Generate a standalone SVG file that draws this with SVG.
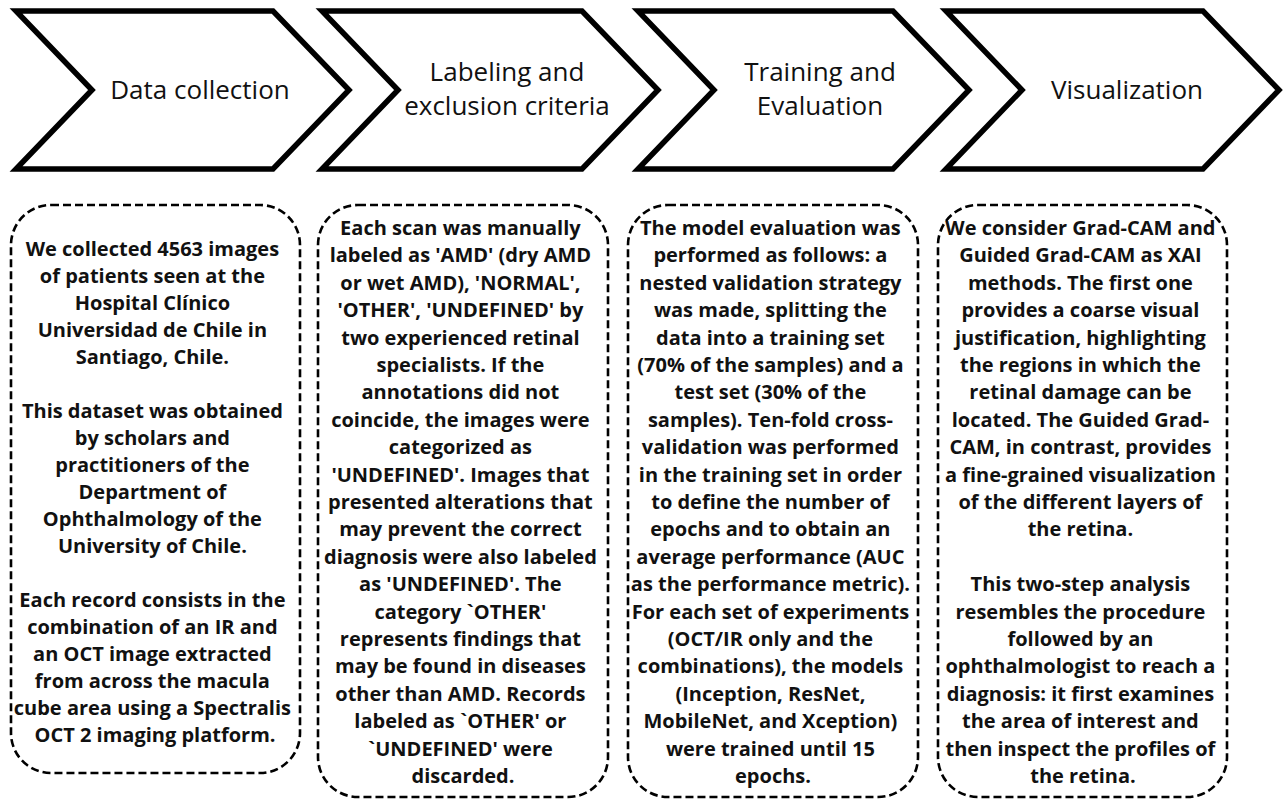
<svg xmlns="http://www.w3.org/2000/svg" width="1288" height="801" viewBox="0 0 1288 801">
<style>
.chev{fill:#fff;stroke:#000;stroke-width:5.5;stroke-linejoin:miter}
.head{font-family:"Open Sans","Liberation Sans",sans-serif;font-size:26px;font-weight:400;fill:#111;text-anchor:middle}
.box{fill:#fff;stroke:#000;stroke-width:2.6;stroke-dasharray:8 4}
.body{font-family:"Open Sans","Liberation Sans",sans-serif;font-size:20px;font-weight:700;fill:#111;text-anchor:middle}
</style>
<rect width="1288" height="801" fill="#fff"/>
<g id="step1">
<path class="chev" d="M16,11 H273 L349,90 L273,169 H16 L92,90 Z"/>
<text class="head" x="200" y="99">Data collection</text>
</g>
<g id="step2">
<path class="chev" d="M322,11 H582 L658,90 L582,169 H322 L398,90 Z"/>
<text class="head" x="507" y="81">Labeling and</text>
<text class="head" x="507" y="115">exclusion criteria</text>
</g>
<g id="step3">
<path class="chev" d="M638,11 H893 L969,90 L893,169 H638 L714,90 Z"/>
<text class="head" x="820" y="81">Training and</text>
<text class="head" x="820" y="115">Evaluation</text>
</g>
<g id="step4">
<path class="chev" d="M946,11 H1203 L1279,90 L1203,169 H946 L1022,90 Z"/>
<text class="head" x="1127" y="99">Visualization</text>
</g>
<g id="box1">
<rect class="box" x="11" y="205" width="289" height="568" rx="40" ry="40"/>
<text class="body">
<tspan x="155" y="256">We collected 4563 images</tspan>
<tspan x="155" y="283">of patients seen at the</tspan>
<tspan x="155" y="310">Hospital Clínico</tspan>
<tspan x="155" y="337">Universidad de Chile in</tspan>
<tspan x="155" y="364">Santiago, Chile.</tspan>
<tspan x="155" y="418">This dataset was obtained</tspan>
<tspan x="155" y="445">by scholars and</tspan>
<tspan x="155" y="472">practitioners of the</tspan>
<tspan x="155" y="499">Department of</tspan>
<tspan x="155" y="526">Ophthalmology of the</tspan>
<tspan x="155" y="553">University of Chile.</tspan>
<tspan x="155" y="607">Each record consists in the</tspan>
<tspan x="155" y="634">combination of an IR and</tspan>
<tspan x="155" y="661">an OCT image extracted</tspan>
<tspan x="155" y="688">from across the macula</tspan>
<tspan x="155" y="715">cube area using a Spectralis</tspan>
<tspan x="155" y="742">OCT 2 imaging platform.</tspan>
</text>
</g>
<g id="box2">
<rect class="box" x="318" y="205" width="290" height="592" rx="40" ry="40"/>
<text class="body">
<tspan x="463" y="235">Each scan was manually</tspan>
<tspan x="463" y="262.4">labeled as 'AMD' (dry AMD</tspan>
<tspan x="463" y="289.8">or wet AMD), 'NORMAL',</tspan>
<tspan x="463" y="317.2">'OTHER', 'UNDEFINED' by</tspan>
<tspan x="463" y="344.6">two experienced retinal</tspan>
<tspan x="463" y="372">specialists. If the</tspan>
<tspan x="463" y="399.4">annotations did not</tspan>
<tspan x="463" y="426.8">coincide, the images were</tspan>
<tspan x="463" y="454.2">categorized as</tspan>
<tspan x="463" y="481.6">'UNDEFINED'. Images that</tspan>
<tspan x="463" y="509">presented alterations that</tspan>
<tspan x="463" y="536.4">may prevent the correct</tspan>
<tspan x="463" y="563.8">diagnosis were also labeled</tspan>
<tspan x="463" y="591.2">as 'UNDEFINED'. The</tspan>
<tspan x="463" y="618.6">category `OTHER'</tspan>
<tspan x="463" y="646">represents findings that</tspan>
<tspan x="463" y="673.4">may be found in diseases</tspan>
<tspan x="463" y="700.8">other than AMD. Records</tspan>
<tspan x="463" y="728.2">labeled as `OTHER' or</tspan>
<tspan x="463" y="755.6">`UNDEFINED' were</tspan>
<tspan x="463" y="783">discarded.</tspan>
</text>
</g>
<g id="box3">
<rect class="box" x="628" y="205" width="290" height="592" rx="40" ry="40"/>
<text class="body">
<tspan x="773" y="235">The model evaluation was</tspan>
<tspan x="773" y="262.4">performed as follows: a</tspan>
<tspan x="773" y="289.8">nested validation strategy</tspan>
<tspan x="773" y="317.2">was made, splitting the</tspan>
<tspan x="773" y="344.6">data into a training set</tspan>
<tspan x="773" y="372">(70% of the samples) and a</tspan>
<tspan x="773" y="399.4">test set (30% of the</tspan>
<tspan x="773" y="426.8">samples). Ten-fold cross-</tspan>
<tspan x="773" y="454.2">validation was performed</tspan>
<tspan x="773" y="481.6">in the training set in order</tspan>
<tspan x="773" y="509">to define the number of</tspan>
<tspan x="773" y="536.4">epochs and to obtain an</tspan>
<tspan x="773" y="563.8">average performance (AUC</tspan>
<tspan x="773" y="591.2">as the performance metric).</tspan>
<tspan x="773" y="618.6">For each set of experiments</tspan>
<tspan x="773" y="646">(OCT/IR only and the</tspan>
<tspan x="773" y="673.4">combinations), the models</tspan>
<tspan x="773" y="700.8">(Inception, ResNet,</tspan>
<tspan x="773" y="728.2">MobileNet, and Xception)</tspan>
<tspan x="773" y="755.6">were trained until 15</tspan>
<tspan x="773" y="783">epochs.</tspan>
</text>
</g>
<g id="box4">
<rect class="box" x="938" y="205" width="289" height="592" rx="40" ry="40"/>
<text class="body">
<tspan x="1083" y="235">We consider Grad-CAM and</tspan>
<tspan x="1083" y="262.4">Guided Grad-CAM as XAI</tspan>
<tspan x="1083" y="289.8">methods. The first one</tspan>
<tspan x="1083" y="317.2">provides a coarse visual</tspan>
<tspan x="1083" y="344.6">justification, highlighting</tspan>
<tspan x="1083" y="372">the regions in which the</tspan>
<tspan x="1083" y="399.4">retinal damage can be</tspan>
<tspan x="1083" y="426.8">located. The Guided Grad-</tspan>
<tspan x="1083" y="454.2">CAM, in contrast, provides</tspan>
<tspan x="1083" y="481.6">a fine-grained visualization</tspan>
<tspan x="1083" y="509">of the different layers of</tspan>
<tspan x="1083" y="536.4">the retina.</tspan>
<tspan x="1083" y="591.2">This two-step analysis</tspan>
<tspan x="1083" y="618.6">resembles the procedure</tspan>
<tspan x="1083" y="646">followed by an</tspan>
<tspan x="1083" y="673.4">ophthalmologist to reach a</tspan>
<tspan x="1083" y="700.8">diagnosis: it first examines</tspan>
<tspan x="1083" y="728.2">the area of interest and</tspan>
<tspan x="1083" y="755.6">then inspect the profiles of</tspan>
<tspan x="1083" y="783">the retina.</tspan>
</text>
</g>
<g id="connectors"/>
</svg>
